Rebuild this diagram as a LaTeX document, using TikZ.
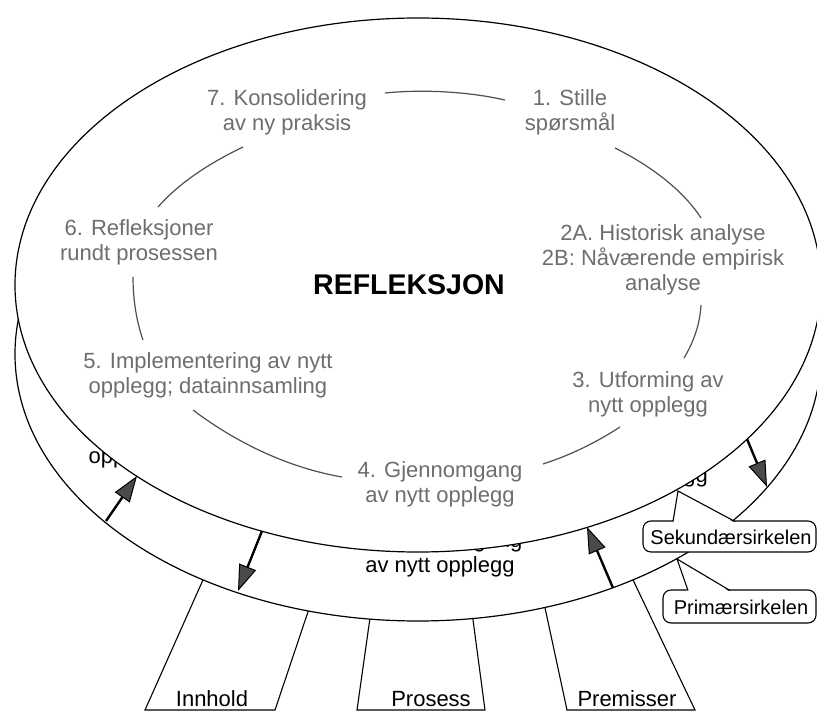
\documentclass[tikz,border=0pt]{standalone}
\usepackage{fontspec}
\setmainfont{Liberation Sans}
\usetikzlibrary{arrows.meta}
\definecolor{stepgray}{HTML}{6E6E6E}
\definecolor{arcgray}{HTML}{505050}
\definecolor{headgray}{HTML}{4A4A4A}

\begin{document}
\begin{tikzpicture}[x=1pt,y=-1pt,
  disk/.style={draw=black, line width=1.2pt, fill=white},
  steptext/.style={text=stepgray, font=\fontsize{22}{25}\selectfont, align=center, inner sep=0pt},
  ringtext/.style={text=black, font=\fontsize{22}{25}\selectfont, align=center, inner sep=0pt},
  cyclearc/.style={draw=arcgray, line width=1.2pt},
  leg/.style={draw=black, line width=1.1pt, line join=miter},
  legtext/.style={text=black, font=\fontsize{22}{25}\selectfont, inner sep=0pt, anchor=base},
  flow/.style={draw=black, line width=2.4pt,
    -{Triangle[length=26pt,width=18pt,fill=headgray,line width'=1pt]}},
  callout/.style={draw=black, line width=1.1pt, fill=white, rounded corners=8pt},
  pointer/.style={draw=black, line width=1.1pt, line join=miter},
  callouttext/.style={text=black, font=\fontsize{20}{24}\selectfont, inner sep=0pt}
]
\useasboundingbox (0,0) rectangle (817,711);
\clip (0,0) rectangle (817,711);

% three legs below the wheel
\draw[leg] (207.4,570) -- (145,710) -- (275,710) -- (311.3,602);
\draw[leg] (371.4,608) -- (357,710) -- (485,710) -- (471.7,610);
\draw[leg] (542.9,598) -- (567,710) -- (695,710) -- (628.3,570);
\node[legtext] (innhold) at (212,706) {Innhold};
\node[legtext] (prosess) at (431,706) {Prosess};
\node[legtext] (premisser) at (627,706) {Premisser};

% lower disk (primary circle)
\draw[disk] (418,354) ellipse [x radius=403pt, y radius=267pt];
\node[ringtext] (b3) at (648,464) {3. Utforming av\\nytt opplegg};
\node[ringtext] (b4) at (440,554) {4. Gjennomgang\\av nytt opplegg};
\node[ringtext] (b5) at (208,445) {5. Implementering av nytt\\opplegg; datainnsamling};

% arrows between the two disks
\coordinate (fa1) at (137,476); \coordinate (ba1) at (106,521);
\coordinate (fa2) at (262,531); \coordinate (ba2) at (238,591);
\coordinate (fa3) at (587,527); \coordinate (ba3) at (613,588);
\coordinate (fa4) at (747,439); \coordinate (ba4) at (767,487);
\draw[flow] (ba1) -- (fa1);
\draw[flow] (fa2) -- (ba2);
\draw[flow] (ba3) -- (fa3);
\draw[flow] (fa4) -- (ba4);

% upper disk (secondary circle)
\draw[disk] (418,285) ellipse [x radius=403pt, y radius=267pt];

\node[steptext] (s7) at (287,112) {7. Konsolidering\\av ny praksis};
\node[steptext] (s1) at (570,112) {1. Stille\\spørsmål};
\node[steptext] (s2) at (663,260) {2A. Historisk analyse\\2B: Nåværende empirisk\\analyse};
\node[steptext] (s3) at (648,394) {3. Utforming av\\nytt opplegg};
\node[steptext] (s4) at (440,484) {4. Gjennomgang\\av nytt opplegg};
\node[steptext] (s5) at (208,375) {5. Implementering av nytt\\opplegg; datainnsamling};
\node[steptext] (s6) at (139,242) {6. Refleksjoner\\rundt prosessen};
\node[font=\bfseries\fontsize{28.5}{30}\selectfont, inner sep=0pt] (hub) at (409,285) {REFLEKSJON};

% the cycle of steps
\draw[cyclearc] (385,93) .. controls (425,89) and (470,92) .. (505,100);
\draw[cyclearc] (615,148) .. controls (655,168) and (685,193) .. (701,218);
\draw[cyclearc] (701,305) .. controls (700,325) and (693,343) .. (684,358);
\draw[cyclearc] (620,427) .. controls (597,442) and (571,455) .. (543,464);
\draw[cyclearc] (193,410) .. controls (238,444) and (290,468) .. (342,477);
\draw[cyclearc] (143,340) .. controls (136,320) and (133,298) .. (133,277);
\draw[cyclearc] (158,207) .. controls (180,182) and (210,163) .. (243,147);

% callouts naming the two circles
\draw[callout] (643,521) rectangle (816,552);
\coordinate (sektip) at (678,491);
\fill[white] (673,523) -- (sektip) -- (735,523) -- cycle;
\draw[pointer] (673,521.5) -- (sektip) -- (735,521.5);
\node[callouttext] (sek) at (731,537) {Sekundærsirkelen};

\draw[callout] (663,590) rectangle (816,623);
\coordinate (primtip) at (677,559);
\fill[white] (688,592) -- (primtip) -- (730,592) -- cycle;
\draw[pointer] (688,590.5) -- (primtip) -- (730,590.5);
\node[callouttext] (prim) at (741,607) {Primærsirkelen};
\end{tikzpicture}
\end{document}
